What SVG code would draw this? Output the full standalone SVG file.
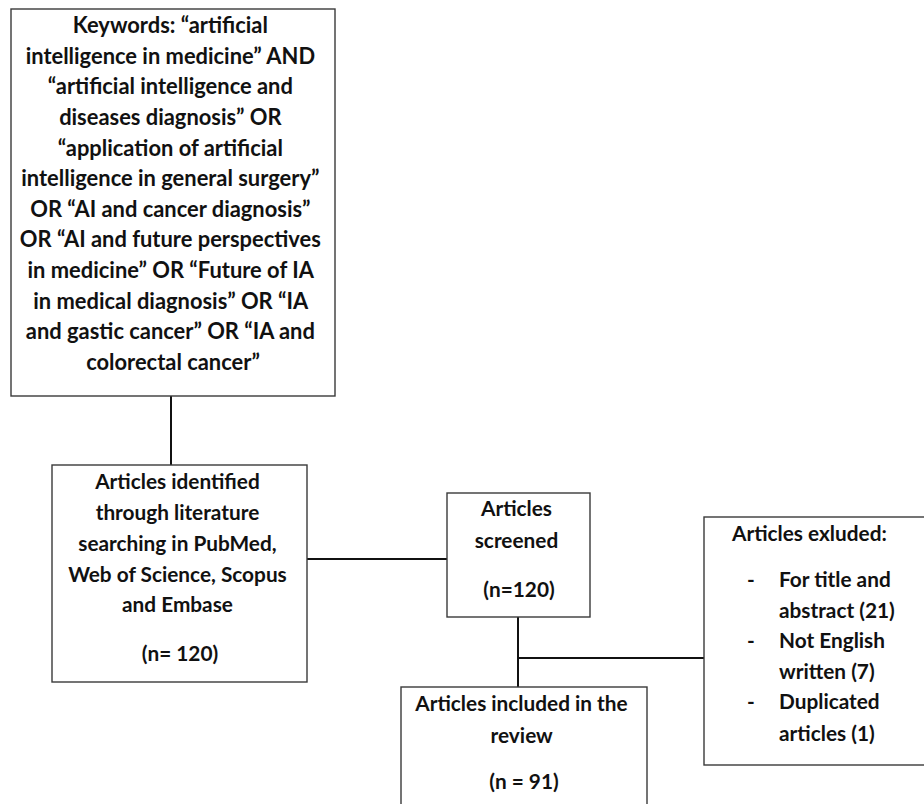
<svg xmlns="http://www.w3.org/2000/svg" width="924" height="804" viewBox="0 0 924 804">
<style>
.box{fill:#fff;stroke:#3a3a3a;stroke-width:1.4}
.t{font-family:Lato,"Open Sans","Liberation Sans",sans-serif;font-weight:bold;font-size:20.8px;fill:#111}
.k{font-size:21.9px}
.c{text-anchor:middle}
.ln{stroke:#111;stroke-width:2;fill:none}
</style>
<rect width="924" height="804" fill="#fff"/>
<g id="connectors">
<line class="ln" x1="171" y1="396" x2="171" y2="465"/>
<line class="ln" x1="307" y1="559" x2="447" y2="559"/>
<line class="ln" x1="518" y1="617" x2="518" y2="687"/>
<line class="ln" x1="518" y1="658" x2="705" y2="658"/>
</g>
<g id="keywords">
<rect class="box" x="11" y="9" width="324" height="387"/>
<text class="t k c">
<tspan x="173" y="33">Keywords: “artificial</tspan>
<tspan x="173" y="64">intelligence in medicine” AND</tspan>
<tspan x="173" y="94">“artificial intelligence and</tspan>
<tspan x="173" y="125">diseases diagnosis” OR</tspan>
<tspan x="173" y="156">“application of artificial</tspan>
<tspan x="173" y="186">intelligence in general surgery”</tspan>
<tspan x="173" y="217">OR “AI and cancer diagnosis”</tspan>
<tspan x="173" y="247">OR “AI and future perspectives</tspan>
<tspan x="173" y="278">in medicine” OR “Future of IA</tspan>
<tspan x="173" y="309">in medical diagnosis” OR “IA</tspan>
<tspan x="173" y="339">and gastic cancer” OR “IA and</tspan>
<tspan x="173" y="370">colorectal cancer”</tspan>
</text>
</g>
<g id="identified">
<rect class="box" x="52" y="465" width="255" height="217"/>
<text class="t c">
<tspan x="180" y="489">Articles identified</tspan>
<tspan x="180" y="520">through literature</tspan>
<tspan x="180" y="551">searching in PubMed,</tspan>
<tspan x="180" y="582">Web of Science, Scopus</tspan>
<tspan x="180" y="612">and Embase</tspan>
<tspan x="180" y="661">(n= 120)</tspan>
</text>
</g>
<g id="screened">
<rect class="box" x="447" y="493" width="143" height="124"/>
<text class="t c">
<tspan x="519" y="516">Articles</tspan>
<tspan x="519" y="548">screened</tspan>
<tspan x="519" y="597">(n=120)</tspan>
</text>
</g>
<g id="included">
<rect class="box" x="401" y="687" width="246" height="130"/>
<text class="t c">
<tspan x="524" y="711">Articles included in the</tspan>
<tspan x="524" y="743">review</tspan>
<tspan x="524" y="789">(n = 91)</tspan>
</text>
</g>
<g id="excluded">
<rect class="box" x="704" y="517" width="230" height="248"/>
<text class="t" x="732" y="541">Articles exluded:</text>
<text class="t" x="747" y="587">-</text>
<text class="t" x="747" y="648">-</text>
<text class="t" x="747" y="709">-</text>
<text class="t">
<tspan x="779" y="587">For title and</tspan>
<tspan x="779" y="618">abstract (21)</tspan>
<tspan x="779" y="648">Not English</tspan>
<tspan x="779" y="679">written (7)</tspan>
<tspan x="779" y="709">Duplicated</tspan>
<tspan x="779" y="741">articles (1)</tspan>
</text>
</g>
</svg>
